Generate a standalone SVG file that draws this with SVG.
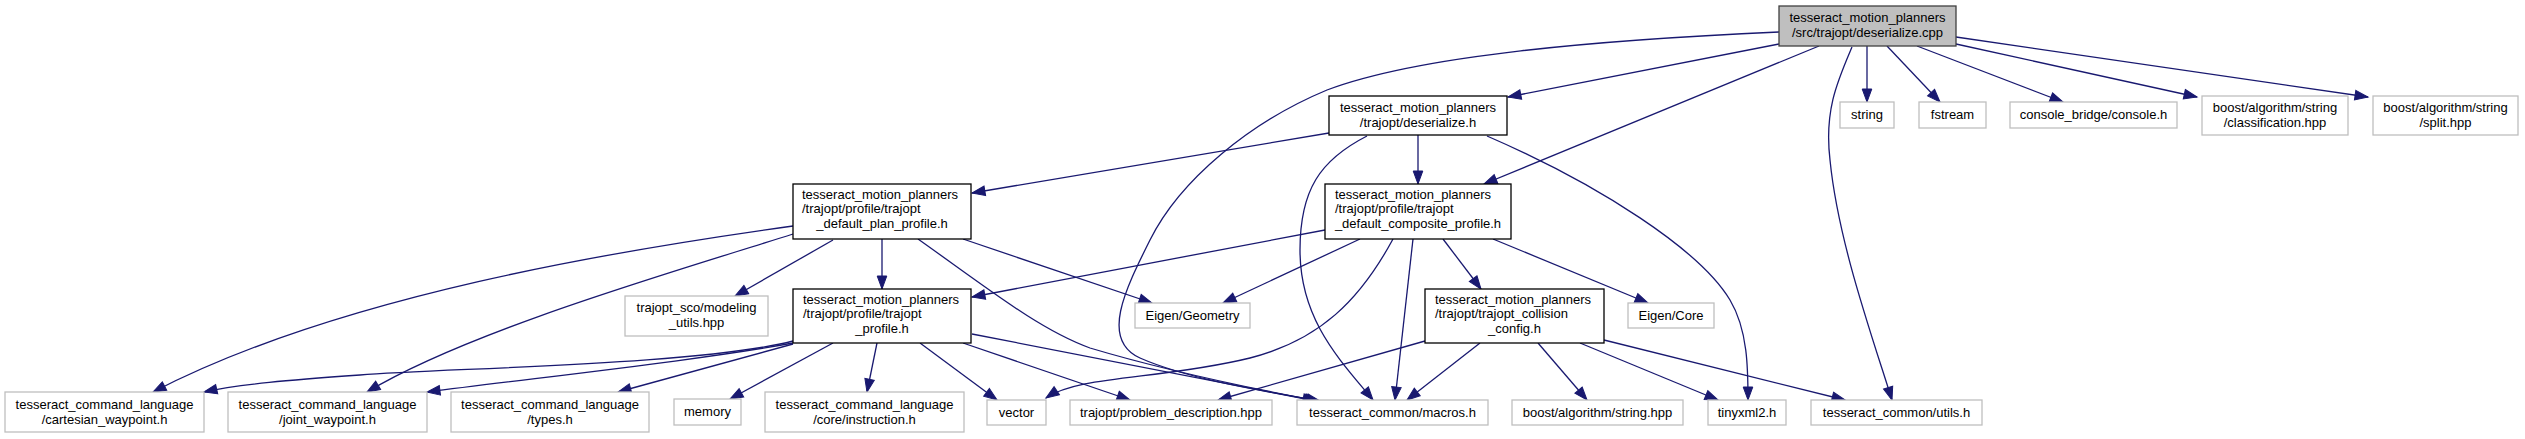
<svg xmlns="http://www.w3.org/2000/svg" width="2525" height="439" viewBox="0 0 2525 439">
<style>
text{font-family:"Liberation Sans",Arial,sans-serif;font-size:13px;fill:#000}
.m{text-anchor:middle}
.s{text-anchor:start}
.doc{fill:#fff;stroke:#000;stroke-width:1.3}
.ext{fill:#fff;stroke:#bfbfbf;stroke-width:1.3}
.root{fill:#bfbfbf;stroke:#404040;stroke-width:1.3}
#edges path{fill:none;stroke:#191970;stroke-width:1.3;marker-end:url(#a)}
</style>
<defs>
<marker id="a" markerWidth="14" markerHeight="11" refX="13" refY="5.5" orient="auto" markerUnits="userSpaceOnUse" viewBox="0 0 14 11" overflow="visible">
<path d="M0,0.7 L13,5.5 L0,10.3 z" fill="#191970" stroke="#191970" stroke-width="1"/>
</marker>
</defs>
<rect width="2525" height="439" fill="#fff"/>
<g id="edges">
<path d="M1779,44 L1508,97"/>
<path d="M1779,32 C1600,40 1420,55 1327,90 C1250,122 1180,180 1150,240 C1125,290 1100,340 1140,358 C1190,380 1270,392 1320,401"/>
<path d="M1819,46 L1484,184"/>
<path d="M1852,47 C1838,80 1824,110 1830,160 C1838,240 1870,330 1892,400"/>
<path d="M1867,46 L1867,102"/>
<path d="M1887,46 L1940,102"/>
<path d="M1917,46 L2063,102"/>
<path d="M1956,44 L2197,97"/>
<path d="M1956,37 L2368,97"/>
<path d="M1329,133 L972,193"/>
<path d="M1418,135 L1418,184"/>
<path d="M1367,136 C1320,160 1300,190 1300,250 C1300,320 1340,360 1373,400"/>
<path d="M1487,136 C1600,185 1700,250 1730,300 C1748,330 1748,370 1748,400"/>
<path d="M793,226 C620,250 340,295 153,392"/>
<path d="M793,234 C680,270 470,330 367,392"/>
<path d="M833,240 L735,296"/>
<path d="M882,239 L882,289"/>
<path d="M918,239 C990,290 1040,330 1090,348 C1170,372 1260,390 1318,401"/>
<path d="M963,239 L1152,303"/>
<path d="M1325,230 L972,297"/>
<path d="M1360,239 L1223,303"/>
<path d="M1393,239 C1360,300 1320,340 1250,358 C1160,380 1080,375 1046,398"/>
<path d="M1413,239 L1395,400"/>
<path d="M1443,239 L1481,289"/>
<path d="M1493,239 L1648,303"/>
<path d="M1425,341 L1218,400"/>
<path d="M1480,343 L1407,400"/>
<path d="M1538,343 L1587,400"/>
<path d="M1580,343 L1718,400"/>
<path d="M1604,340 L1845,400"/>
<path d="M793,341 C700,365 450,368 360,375 C290,380 240,384 204,392"/>
<path d="M793,343 C700,360 560,375 427,392"/>
<path d="M793,344 L618,392"/>
<path d="M833,343 L730,399"/>
<path d="M877,343 L867,392"/>
<path d="M920,343 L997,400"/>
<path d="M963,343 L1130,400"/>
<path d="M972,334 L1316,401"/>
</g>
<g id="main"><rect class="root" x="1779" y="6" width="177" height="40"/><text class="m" x="1867.5" y="22">tesseract_motion_planners</text><text class="m" x="1867.5" y="36.5">/src/trajopt/deserialize.cpp</text></g>
<g id="deser_h"><rect class="doc" x="1329" y="96" width="178" height="39"/><text class="m" x="1418" y="112">tesseract_motion_planners</text><text class="m" x="1418" y="126.5">/trajopt/deserialize.h</text></g>
<g id="string"><rect class="ext" x="1840" y="102" width="54" height="26"/><text class="m" x="1867" y="119">string</text></g>
<g id="fstream"><rect class="ext" x="1919" y="102" width="67" height="26"/><text class="m" x="1952.5" y="119">fstream</text></g>
<g id="console"><rect class="ext" x="2010" y="102" width="167" height="26"/><text class="m" x="2093.5" y="119">console_bridge/console.h</text></g>
<g id="classification"><rect class="ext" x="2202" y="96" width="146" height="39"/><text class="m" x="2275" y="112">boost/algorithm/string</text><text class="m" x="2275" y="126.5">/classification.hpp</text></g>
<g id="split"><rect class="ext" x="2373" y="96" width="145" height="39"/><text class="m" x="2445.5" y="112">boost/algorithm/string</text><text class="m" x="2445.5" y="126.5">/split.hpp</text></g>
<g id="plan"><rect class="doc" x="793" y="184" width="178" height="55"/><text class="s" x="802" y="198.5">tesseract_motion_planners</text><text class="s" x="802" y="213">/trajopt/profile/trajopt</text><text class="m" x="882" y="227.5">_default_plan_profile.h</text></g>
<g id="composite"><rect class="doc" x="1325" y="184" width="186" height="55"/><text class="s" x="1335" y="198.5">tesseract_motion_planners</text><text class="s" x="1335" y="213">/trajopt/profile/trajopt</text><text class="m" x="1418" y="227.5">_default_composite_profile.h</text></g>
<g id="trajopt_profile"><rect class="doc" x="793" y="289" width="178" height="54"/><text class="s" x="803" y="303.5">tesseract_motion_planners</text><text class="s" x="803" y="318">/trajopt/profile/trajopt</text><text class="m" x="882" y="332.5">_profile.h</text></g>
<g id="sco"><rect class="ext" x="625" y="296" width="143" height="40"/><text class="m" x="696.5" y="312">trajopt_sco/modeling</text><text class="m" x="696.5" y="326.5">_utils.hpp</text></g>
<g id="geometry"><rect class="ext" x="1135" y="303" width="115" height="25"/><text class="m" x="1192.5" y="320">Eigen/Geometry</text></g>
<g id="collision"><rect class="doc" x="1425" y="289" width="179" height="54"/><text class="s" x="1435" y="303.5">tesseract_motion_planners</text><text class="s" x="1435" y="318">/trajopt/trajopt_collision</text><text class="m" x="1514.5" y="332.5">_config.h</text></g>
<g id="core"><rect class="ext" x="1628" y="303" width="86" height="25"/><text class="m" x="1671" y="320">Eigen/Core</text></g>
<g id="cartesian"><rect class="ext" x="5" y="392" width="199" height="40"/><text class="m" x="104.5" y="409">tesseract_command_language</text><text class="m" x="104.5" y="423.5">/cartesian_waypoint.h</text></g>
<g id="joint"><rect class="ext" x="228" y="392" width="199" height="40"/><text class="m" x="327.5" y="409">tesseract_command_language</text><text class="m" x="327.5" y="423.5">/joint_waypoint.h</text></g>
<g id="types"><rect class="ext" x="451" y="392" width="198" height="40"/><text class="m" x="550" y="409">tesseract_command_language</text><text class="m" x="550" y="423.5">/types.h</text></g>
<g id="memory"><rect class="ext" x="674" y="399" width="67" height="26"/><text class="m" x="707.5" y="416">memory</text></g>
<g id="instruction"><rect class="ext" x="765" y="392" width="199" height="40"/><text class="m" x="864.5" y="409">tesseract_command_language</text><text class="m" x="864.5" y="423.5">/core/instruction.h</text></g>
<g id="vector"><rect class="ext" x="987" y="400" width="59" height="25"/><text class="m" x="1016.5" y="417">vector</text></g>
<g id="problem"><rect class="ext" x="1070" y="400" width="202" height="25"/><text class="m" x="1171" y="417">trajopt/problem_description.hpp</text></g>
<g id="macros"><rect class="ext" x="1297" y="400" width="191" height="25"/><text class="m" x="1392.5" y="417">tesseract_common/macros.h</text></g>
<g id="boost_string"><rect class="ext" x="1512" y="400" width="171" height="25"/><text class="m" x="1597.5" y="417">boost/algorithm/string.hpp</text></g>
<g id="tinyxml2"><rect class="ext" x="1708" y="400" width="78" height="25"/><text class="m" x="1747" y="417">tinyxml2.h</text></g>
<g id="utils"><rect class="ext" x="1811" y="400" width="171" height="25"/><text class="m" x="1896.5" y="417">tesseract_common/utils.h</text></g>
</svg>
